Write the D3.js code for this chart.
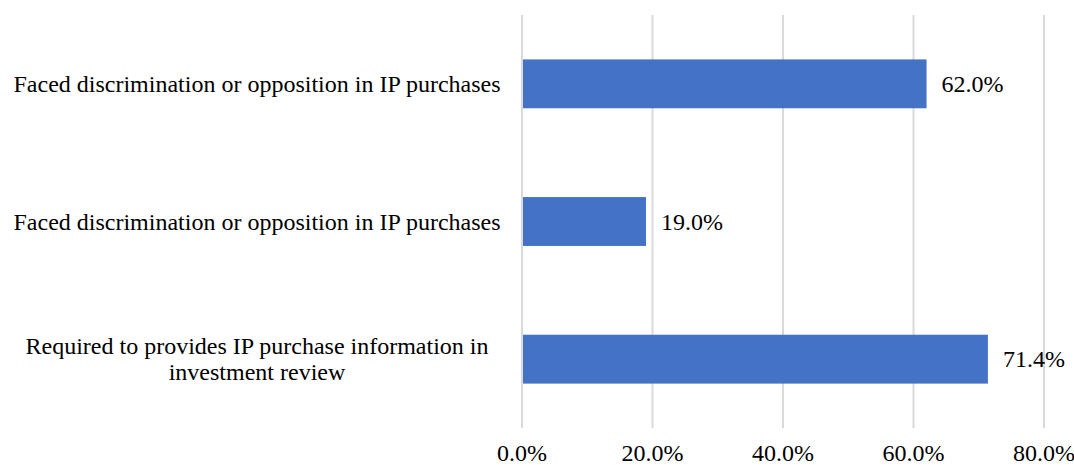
<!DOCTYPE html>
<html>
<head>
<meta charset="utf-8">
<script src="https://cdn.jsdelivr.net/npm/d3@7"></script>
<style>
  body { margin: 0; background: #fff; }
  text { font-family: "Liberation Serif", "Times New Roman", serif; fill: #000; }
</style>
</head>
<body>
<div id="chart"></div>
<script>
const categories = [
  ["Faced discrimination or opposition in IP purchases"],
  ["Faced discrimination or opposition in IP purchases"],
  ["Required to provides IP purchase information in", "investment review"]
]
const values = [62.0, 19.0, 71.4]
const ticks = [0, 20, 40, 60, 80]

const WIDTH = 1074
const HEIGHT = 465
const MARGIN = { LEFT: 522, RIGHT: 30, TOP: 15, BOTTOM: 37 }

const svg = d3.select("#chart")
  .append("svg")
  .attr("width", WIDTH)
  .attr("height", HEIGHT)

const g = svg.append("g")
  .attr("transform", `translate(${MARGIN.LEFT}, ${MARGIN.TOP})`)

const innerW = 1044 - MARGIN.LEFT
const innerH = HEIGHT - MARGIN.TOP - MARGIN.BOTTOM

const x = d3.scaleLinear().domain([0, 80]).range([0, innerW])
const y = d3.scaleBand().domain(d3.range(values.length)).range([0, innerH]).paddingInner(0.645).paddingOuter(0.3225)

// gridlines
g.selectAll(".grid")
  .data(ticks)
  .enter()
  .append("line")
  .attr("class", "grid")
  .attr("x1", d => x(d))
  .attr("x2", d => x(d))
  .attr("y1", 0)
  .attr("y2", innerH)
  .attr("stroke", "#d9d9d9")
  .attr("stroke-width", 2)

// x tick labels
g.selectAll(".xtick")
  .data(ticks)
  .enter()
  .append("text")
  .attr("class", "xtick")
  .attr("x", d => x(d))
  .attr("y", innerH + 33)
  .attr("text-anchor", "middle")
  .attr("font-size", "24px")
  .text(d => d.toFixed(1) + "%")

// bars
g.selectAll(".bar")
  .data(values)
  .enter()
  .append("rect")
  .attr("class", "bar")
  .attr("x", x(0) + 1)
  .attr("y", (d, i) => y(i))
  .attr("width", d => x(d) - x(0) - 1)
  .attr("height", y.bandwidth())
  .attr("fill", "#4472c4")

// value labels
g.selectAll(".val")
  .data(values)
  .enter()
  .append("text")
  .attr("class", "val")
  .attr("x", d => x(d) + 15)
  .attr("y", (d, i) => y(i) + y.bandwidth() / 2 + 8)
  .attr("font-size", "24px")
  .text(d => d.toFixed(1) + "%")

// category labels
const cat = g.selectAll(".cat")
  .data(categories)
  .enter()
  .append("text")
  .attr("class", "cat")
  .attr("text-anchor", "middle")
  .attr("font-size", "24px")
  .attr("transform", (d, i) => `translate(${257 - MARGIN.LEFT}, ${y(i) + y.bandwidth() / 2})`)

cat.selectAll("tspan")
  .data(d => d)
  .enter()
  .append("tspan")
  .attr("x", 0)
  .attr("y", (d, j, nodes) => (j - (nodes.length - 1) / 2) * 26 + 8)
  .text(d => d)
</script>
</body>
</html>
